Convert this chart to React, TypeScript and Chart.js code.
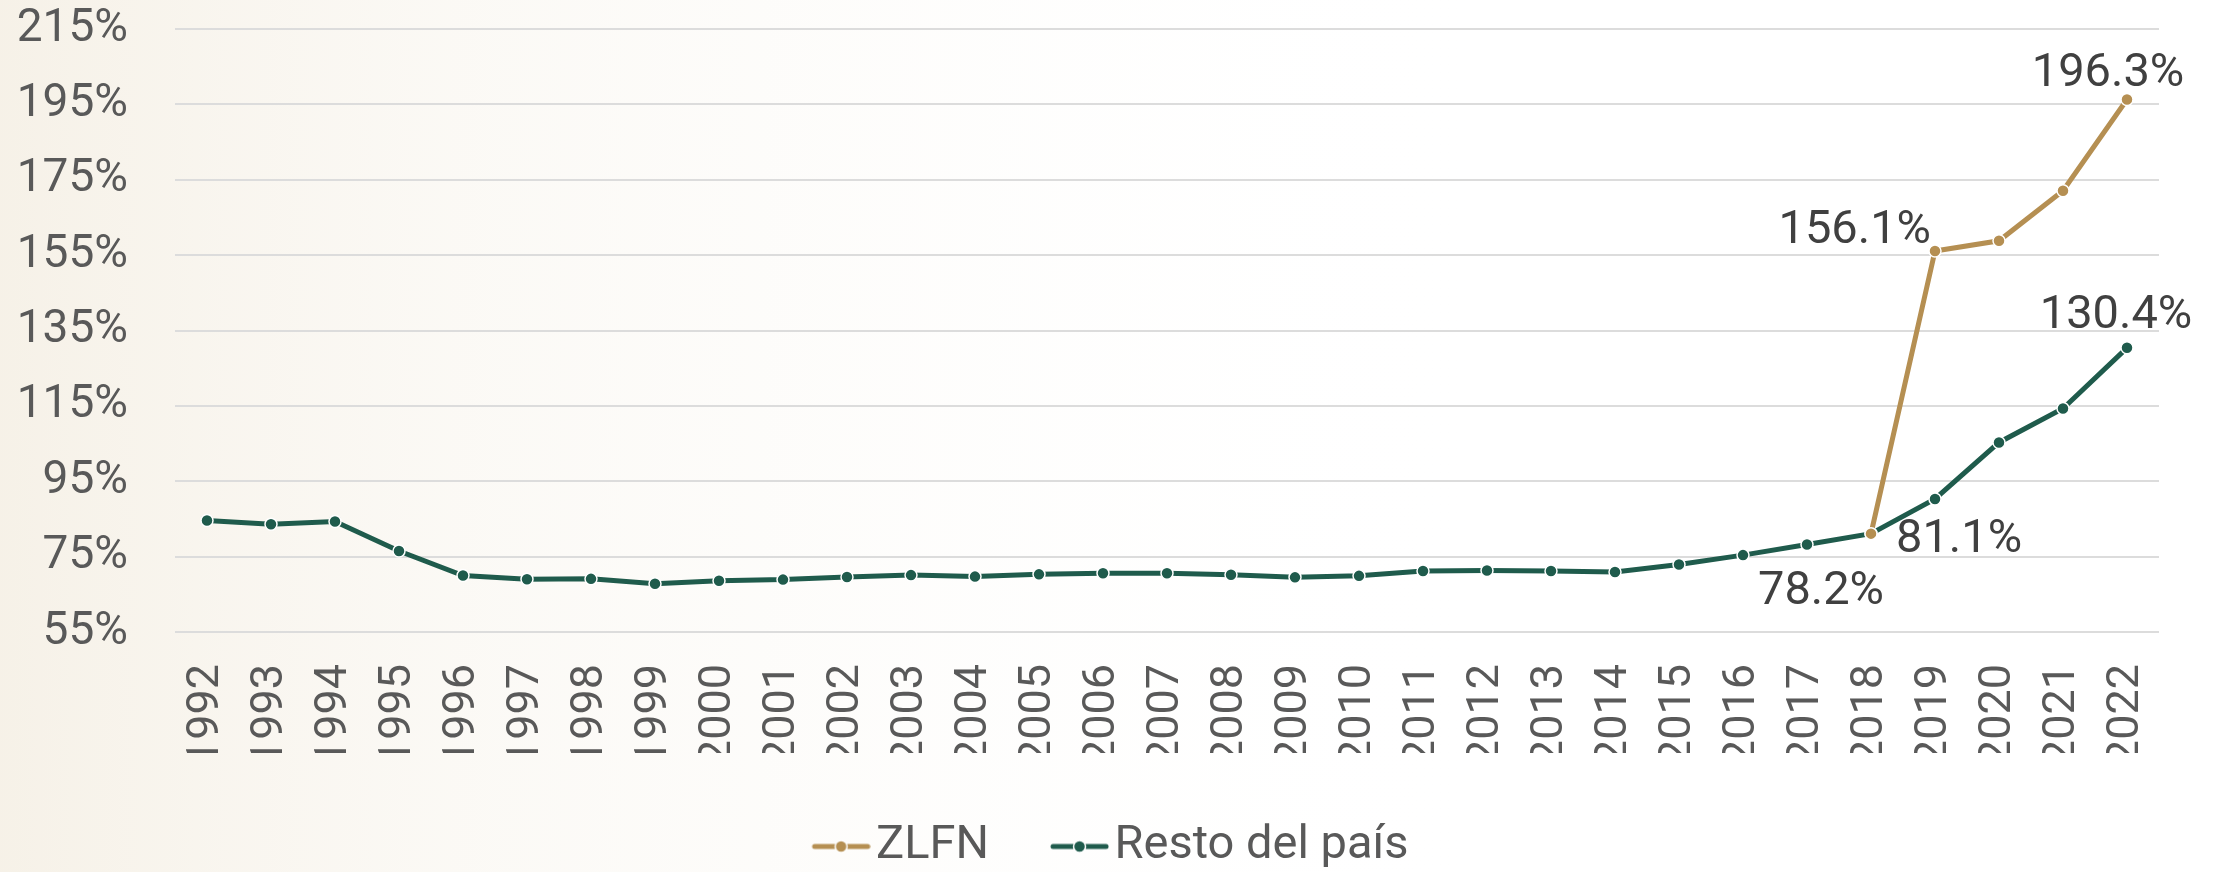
import React, { useEffect, useRef } from "react";
import { Chart, registerables } from "chart.js";

Chart.register(...registerables);

const years = [
  "1992", "1993", "1994", "1995", "1996", "1997", "1998", "1999", "2000", "2001",
  "2002", "2003", "2004", "2005", "2006", "2007", "2008", "2009", "2010", "2011",
  "2012", "2013", "2014", "2015", "2016", "2017", "2018", "2019", "2020", "2021", "2022",
];

const restoValues = [
  84.6, 83.6, 84.3, 76.5, 70.0, 69.0, 69.1, 67.8, 68.6, 68.9,
  69.6, 70.1, 69.7, 70.3, 70.6, 70.6, 70.2, 69.5, 69.9, 71.2,
  71.3, 71.2, 70.9, 72.9, 75.4, 78.2, 81.1, 90.3, 105.3, 114.3, 130.4,
];

const zlfnValues: (number | null)[] = [
  null, null, null, null, null, null, null, null, null, null,
  null, null, null, null, null, null, null, null, null, null,
  null, null, null, null, null, null, 81.1, 156.1, 158.8, 172.1, 196.3,
];

const seriesNames = ["ZLFN", "Resto del país"];
const seriesColors = ["#B58F52", "#1F5B4C"];

const yMin = 55;
const yMax = 215;
const yStep = 20;

// which points carry a value label, and where it sits relative to the point
const labelSpecs = [
  { ds: 0, year: "2018", dx: 25, dy: 18, align: "left" },
  { ds: 0, year: "2019", dx: -4, dy: -8, align: "right" },
  { ds: 0, year: "2022", dx: -19, dy: -13, align: "center" },
  { ds: 1, year: "2017", dx: 14, dy: 59, align: "center" },
  { ds: 1, year: "2022", dx: -11, dy: -20, align: "center" },
];

const FONT = "Roboto";

function makeLegendImage(color: string): HTMLCanvasElement {
  const c = document.createElement("canvas");
  c.width = 76;
  c.height = 16;
  const ctx = c.getContext("2d")!;
  ctx.strokeStyle = color;
  ctx.lineWidth = 5;
  ctx.lineCap = "round";
  ctx.beginPath();
  ctx.moveTo(20, 8);
  ctx.lineTo(73, 8);
  ctx.stroke();
  ctx.beginPath();
  ctx.arc(46.5, 8, 6, 0, Math.PI * 2);
  ctx.fillStyle = color;
  ctx.fill();
  ctx.lineWidth = 1.5;
  ctx.strokeStyle = "#ffffff";
  ctx.stroke();
  return c;
}

const backgroundPlugin = {
  id: "bgPattern",
  beforeDraw(chart: any) {
    const { ctx, width, height } = chart;
    ctx.save();
    ctx.fillStyle = "#ffffff";
    ctx.fillRect(0, 0, width, height);
    const g = ctx.createLinearGradient(0, 0, 1500, 0);
    g.addColorStop(0, "rgba(240,232,216,0.6)");
    g.addColorStop(0.3, "rgba(244,238,226,0.35)");
    g.addColorStop(1, "rgba(255,255,255,0)");
    ctx.fillStyle = g;
    ctx.fillRect(0, 0, width, height);
    ctx.restore();
  },
};

// legend spans the full canvas width (not just up to the right padding) and sits a bit lower
const legendShiftPlugin = {
  id: "legendShift",
  afterLayout(chart: any) {
    const lg = chart.legend;
    if (lg) {
      lg.top += 8;
      lg.bottom += 8;
      lg.left = 0;
      lg.right = chart.width;
      lg.width = chart.width;
    }
  },
};

const valueLabelPlugin = {
  id: "valueLabels",
  afterDatasetsDraw(chart: any) {
    const { ctx } = chart;
    ctx.save();
    ctx.font = `47px ${FONT}`;
    ctx.fillStyle = "#404040";
    ctx.textBaseline = "alphabetic";
    labelSpecs.forEach((s) => {
      const idx = years.indexOf(s.year);
      const meta = chart.getDatasetMeta(s.ds);
      const pt = meta.data[idx];
      const v = chart.data.datasets[s.ds].data[idx];
      if (!pt || v == null) return;
      ctx.textAlign = s.align;
      ctx.fillText(`${Number(v).toFixed(1)}%`, pt.x + s.dx, pt.y + s.dy);
    });
    ctx.restore();
  },
};

export default function App() {
  const canvasRef = useRef<HTMLCanvasElement | null>(null);

  useEffect(() => {
    const canvas = canvasRef.current;
    if (!canvas) return;
    const legendImages = seriesColors.map((c) => makeLegendImage(c));

    const chart = new Chart(canvas, {
      type: "line",
      data: {
        labels: years,
        datasets: [
          {
            label: seriesNames[0],
            data: zlfnValues,
            borderColor: seriesColors[0],
            backgroundColor: seriesColors[0],
            borderWidth: 5,
            pointRadius: 6,
            pointBorderColor: "#ffffff",
            pointBorderWidth: 1.5,
            pointBackgroundColor: seriesColors[0],
            tension: 0,
            spanGaps: false,
          },
          {
            label: seriesNames[1],
            data: restoValues,
            borderColor: seriesColors[1],
            backgroundColor: seriesColors[1],
            borderWidth: 5,
            pointRadius: 6,
            pointBorderColor: "#ffffff",
            pointBorderWidth: 1.5,
            pointBackgroundColor: seriesColors[1],
            tension: 0,
          },
        ],
      },
      options: {
        responsive: false,
        animation: false,
        layout: { padding: { top: 29, right: 62, left: 0, bottom: 0 } },
        plugins: {
          legend: {
            position: "bottom",
            align: "center",
            labels: {
              usePointStyle: true,
              pointStyleWidth: 40,
              padding: 62,
              color: "#595959",
              font: { family: FONT, size: 47 },
              generateLabels(ch: any) {
                return ch.data.datasets.map((ds: any, i: number) => ({
                  text: ds.label,
                  fillStyle: ds.borderColor,
                  strokeStyle: ds.borderColor,
                  fontColor: "#595959",
                  lineWidth: 0,
                  hidden: false,
                  datasetIndex: i,
                  pointStyle: legendImages[i],
                }));
              },
            },
          },
          tooltip: { enabled: false },
        },
        scales: {
          x: {
            type: "category",
            offset: true,
            grid: { display: false, drawTicks: false },
            border: { display: false },
            ticks: {
              autoSkip: false,
              minRotation: 90,
              maxRotation: 90,
              padding: 32,
              color: "#595959",
              font: { family: FONT, size: 45 },
            },
            afterFit(scale: any) {
              scale.height = 121;
            },
          },
          y: {
            min: yMin,
            max: yMax,
            grid: { color: "#DCDCDC", lineWidth: 2, drawTicks: false },
            border: { display: false },
            ticks: {
              stepSize: yStep,
              padding: 47,
              color: "#595959",
              font: { family: FONT, size: 46 },
              callback: (v: any) => `${v}%`,
            },
            afterFit(scale: any) {
              scale.width = 175;
              scale.paddingTop = 0;
              scale.paddingBottom = 0;
            },
          },
        },
      },
      plugins: [backgroundPlugin, legendShiftPlugin, valueLabelPlugin],
    });

    return () => chart.destroy();
  }, []);

  return (
    <div style={{ position: "absolute", left: 0, top: 0, width: 2221, height: 872 }}>
      <canvas ref={canvasRef} width={2221} height={872} style={{ display: "block" }} />
    </div>
  );
}
